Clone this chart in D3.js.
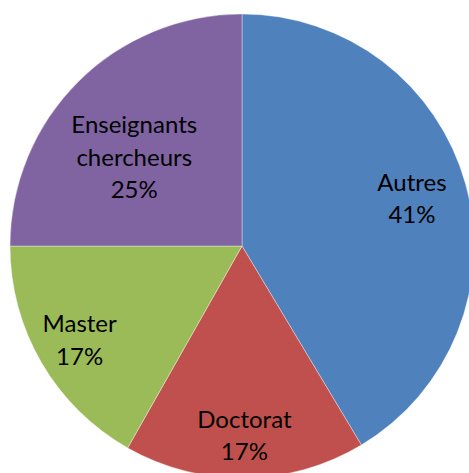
<!DOCTYPE html>
<html>
<head>
<meta charset="utf-8">
<script src="https://cdn.jsdelivr.net/npm/d3@7"></script>
<style>
  body { margin: 0; background: #fff; }
  svg { display: block; }
</style>
</head>
<body>
<svg width="469" height="473"></svg>
<script>
// data (share of each group, %)
var categories = ["Autres", "Doctorat", "Master", "Enseignants chercheurs"];
var values = [41.4, 16.8, 16.8, 25];
var colors = ["#4F81BD", "#C0504D", "#9BBB59", "#8064A2"];
// label lines (Excel wraps the long name)
var labelLines = [["Autres"], ["Doctorat"], ["Master"], ["Enseignants", "chercheurs"]];

var svg = d3.select("svg"),
    cx = 242,
    cy = 246,
    radius = 232;

var g = svg.append("g")
    .attr("transform", "translate(" + cx + "," + cy + ")");

var pie = d3.pie().sort(null).value(function(d) { return d; });
var arcs = pie(values);

var arc = d3.arc().innerRadius(0).outerRadius(radius);

g.selectAll(".slice")
  .data(arcs)
  .enter().append("path")
  .attr("class", "slice")
  .attr("d", arc)
  .attr("fill", function(d, i) { return colors[i]; })
  .attr("stroke", "#fff")
  .attr("stroke-width", 0.6)
  .attr("stroke-opacity", 0.6);

// best fit style: how far out each label sits, and a small angle nudge
var labelFactor = [0.76, 0.82, 0.81, 0.60];
var labelNudge = [0, 0, 0, -0.1];
var lineH = 32.5;

var labels = g.selectAll(".lbl")
  .data(arcs)
  .enter().append("text")
  .attr("class", "lbl")
  .attr("text-anchor", "middle")
  .attr("font-family", "Lato, 'Noto Sans', sans-serif")
  .attr("font-size", "24px")
  .attr("fill", "#000")
  .attr("transform", function(d, i) {
      var a = (d.startAngle + d.endAngle) / 2 + labelNudge[i];
      var rr = radius * labelFactor[i];
      var x = Math.sin(a) * rr, y = -Math.cos(a) * rr;
      return "translate(" + x + "," + y + ")";
  });

labels.each(function(d, i) {
    var lines = labelLines[i].concat([Math.round(values[i]) + "%"]);
    var t = d3.select(this);
    var y0 = -(lines.length - 1) * lineH / 2 + 8;
    lines.forEach(function(s, j) {
        t.append("tspan")
         .attr("x", 0)
         .attr("y", y0 + j * lineH)
         .text(s);
    });
});
</script>
</body>
</html>
